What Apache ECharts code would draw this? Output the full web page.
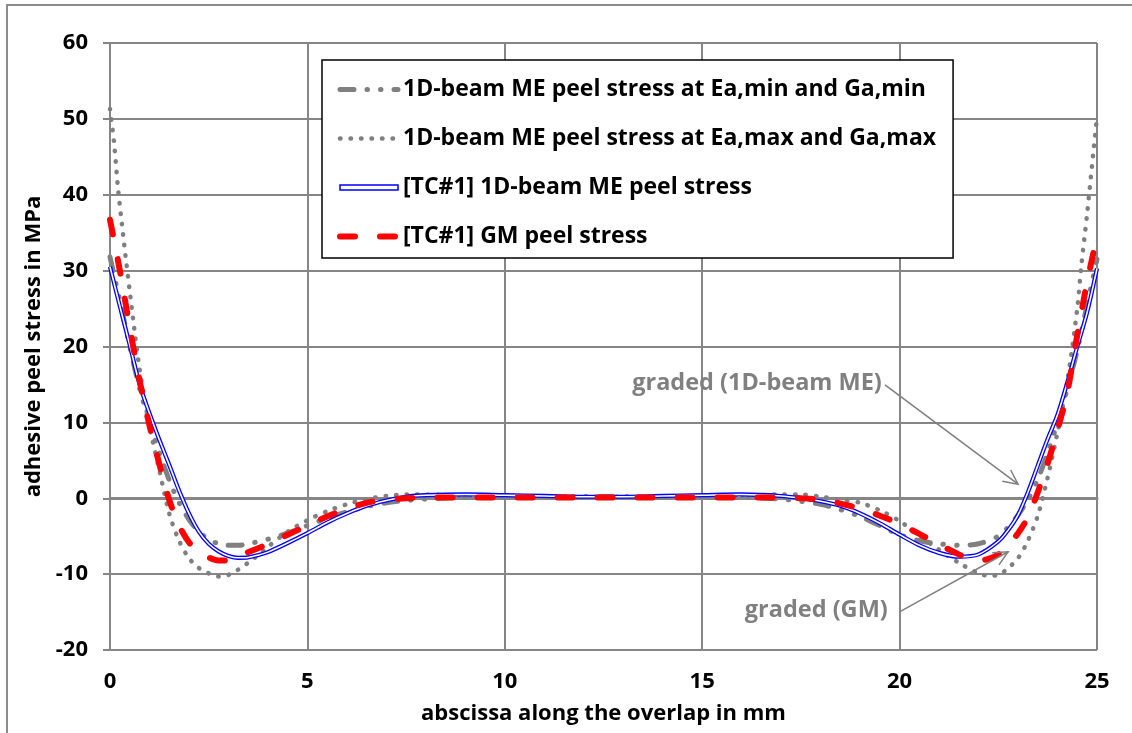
<!DOCTYPE html>
<html>
<head>
<meta charset="utf-8">
<script src="https://cdn.jsdelivr.net/npm/echarts@6/dist/echarts.min.js"></script>
<style>
html,body{margin:0;padding:0;background:#fff;}
#chart{width:1132px;height:733px;}
</style>
</head>
<body>
<div id="chart"></div>
<script>
// ---- Data ----
var xTicks = [0, 5, 10, 15, 20, 25];
var yTicks = [-20, -10, 0, 10, 20, 30, 40, 50, 60];

var nameMin = '1D-beam ME peel stress at Ea,min and Ga,min';
var nameMax = '1D-beam ME peel stress at Ea,max and Ga,max';
var nameME  = '[TC#1] 1D-beam ME peel stress';
var nameGM  = '[TC#1] GM peel stress';

var xMin = [0,0.25,0.5,0.75,1,1.25,1.5,1.75,2,2.25,2.5,2.75,3,3.25,3.5,4,4.5,5,5.5,6,6.5,7,7.5,8,9,10,11,12,13,14,15,16,17,17.5,18,18.5,19,19.5,20,20.5,21,21.5,22,22.5,22.75,23,23.25,23.5,23.75,24,24.25,24.5,24.75,25];
var yMin = [31.8,26,20,14.5,10,6,2.4,-0.6,-2.8,-4.4,-5.4,-6,-6.2,-6.2,-6,-5.4,-4.6,-3.6,-2.6,-1.8,-1.1,-0.6,-0.3,-0.1,0.1,0.1,0.2,0.2,0.2,0.1,0.1,0.1,-0.1,-0.4,-0.8,-1.5,-2.4,-3.6,-4.8,-5.6,-6,-6.2,-6,-5,-3.8,-2.2,-0.2,2.5,6,10,14.5,19.5,25.5,31.5];

var xMax = [0,0.1,0.2,0.3,0.4,0.5,0.6,0.75,1,1.25,1.5,1.75,2,2.25,2.5,2.75,3,3.25,3.5,3.75,4,4.5,5,5.5,6,6.5,7,7.5,8,9,10,11,12,13,14,15,16,17,17.5,18,18.5,19,19.5,20,20.5,21,21.5,22,22.25,22.5,22.75,23,23.25,23.5,23.75,24,24.25,24.5,24.6,24.75,24.9,25];
var yMax = [51.3,47,41,36.2,31.6,27.3,23,17,9.5,3.7,-2,-5.6,-7.9,-9.2,-9.9,-10.3,-10.1,-9.4,-8.5,-7.5,-6.4,-4.4,-2.9,-1.7,-0.8,-0.1,0.3,0.5,0.5,0.3,0.2,0.2,0.2,0.2,0.2,0.2,0.3,0.5,0.5,0.2,-0.2,-0.6,-1.6,-3,-4.9,-6.8,-8.5,-9.9,-10.2,-10.1,-9.2,-7.9,-5.6,-2.3,2.7,8.7,15.5,25,30.5,37.5,45.2,50.2];

var xME = [0,0.25,0.5,0.75,1,1.25,1.5,1.75,2,2.25,2.5,2.75,3,3.25,3.5,3.75,4,4.5,5,5.5,6,6.5,7,7.5,8,9,10,11,12,13,14,15,16,17,17.5,18,18.5,19,19.5,20,20.5,21,21.5,22,22.5,22.75,23,23.25,23.5,23.75,24,24.25,24.5,24.75,25];
var yME = [30.5,25.3,20.2,15,11.2,7.7,4.4,1,-2,-4.4,-6,-7,-7.6,-7.85,-7.8,-7.5,-7.1,-5.9,-4.6,-3.2,-2,-1,-0.3,0.2,0.4,0.5,0.4,0.3,0.2,0.2,0.3,0.4,0.5,0.3,0,-0.4,-1,-2,-3.3,-4.8,-6.2,-7.2,-7.7,-7.4,-5.7,-4.2,-2.2,0.8,4.3,7.8,11,15.3,20,24.5,30.3];

var xGM = [0,0.25,0.5,0.75,1,1.25,1.5,1.75,2,2.25,2.5,2.75,3,3.25,3.5,3.75,4,4.5,5,5.5,6,6.5,7,7.5,8,9,10,11,12,13,14,15,16,17,17.5,18,18.5,19,19.5,20,20.5,21,21.5,21.75,22,22.25,22.5,22.75,23,23.25,23.5,23.75,24,24.25,24.5,24.75,25];
var yGM = [36.7,30,22.5,15.5,9.6,4.5,-0.2,-3.6,-5.8,-7,-7.8,-8.2,-8.2,-7.8,-7.1,-6.6,-6,-4.8,-3.6,-2.4,-1.4,-0.6,-0.2,0,0.1,0.1,0.1,0.1,0.1,0.1,0.1,0.1,0.1,0.1,0,-0.2,-0.7,-1.4,-2.3,-3.4,-4.7,-6.1,-7.4,-8,-8.2,-8,-7.4,-6.2,-4.6,-2.5,0.8,4.6,9,14,21.5,28.5,34.5];

// annotations (data coordinates)
var annoME = {text: 'graded (1D-beam ME)', textAt: [19.55, 15.1], from: [19.63, 14.95], to: [23.0, 1.85]};
var annoGM = {text: 'graded (GM)', textAt: [19.7, -14.8], from: [20.01, -14.95], to: [22.75, -7.05]};

function zip(xs, ys) { return xs.map(function (x, i) { return [x, ys[i]]; }); }

var FONT = '"Open Sans"';
var GRID = '#868686';
var GREY = '#808080';
var noSym = {color: 'rgba(0,0,0,0)', borderWidth: 0, opacity: 0};

var chart = echarts.init(document.getElementById('chart'), null, {renderer: 'canvas'});

var option = {
  backgroundColor: '#fff',
  animation: false,
  grid: {left: 110, right: 35, top: 43, bottom: 83, containLabel: false},
  legend: {
    orient: 'vertical',
    left: 322, top: 60,
    padding: [18, 17, 10, 15],
    itemWidth: 58, itemHeight: 20, itemGap: 26,
    borderColor: '#000', borderWidth: 1.5, backgroundColor: '#fff',
    textStyle: {fontFamily: FONT, fontWeight: 'bold', fontSize: 23, color: '#000'},
    lineStyle: {width: 'inherit'},
    selectedMode: false,
    data: [
      {name: nameMin, itemStyle: noSym},
      {name: nameMax, itemStyle: noSym},
      {name: nameME, icon: 'path://M0,0H60V5H0Z', itemStyle: {color: '#fff', borderColor: '#0000ff', borderWidth: 1.5}},
      {name: nameGM, itemStyle: noSym}
    ]
  },
  xAxis: [{
    type: 'value', min: 0, max: 25, interval: 5, position: 'bottom',
    axisLine: {show: true, onZero: true, lineStyle: {color: GRID, width: 3}},
    axisTick: {show: true, length: 5, lineStyle: {color: GRID, width: 2}},
    axisLabel: {show: false},
    splitLine: {show: true, lineStyle: {color: GRID, width: 2}}
  }, {
    type: 'value', min: 0, max: 25, interval: 5, position: 'bottom',
    axisLine: {show: false, onZero: false},
    axisTick: {show: false},
    splitLine: {show: false},
    axisLabel: {show: true, margin: 21, fontFamily: FONT, fontWeight: 'bold', fontSize: 22, color: '#000',
      formatter: function (v) { return xTicks.indexOf(v) >= 0 ? String(v) : ''; }},
    name: 'abscissa along the overlap in mm', nameLocation: 'middle', nameGap: 53,
    nameTextStyle: {fontFamily: FONT, fontWeight: 'bold', fontSize: 22, color: '#000'}
  }],
  yAxis: {
    type: 'value', min: -20, max: 60, interval: 10,
    axisLine: {show: true, onZero: false, lineStyle: {color: GRID, width: 2}},
    axisTick: {show: true, inside: false, length: 7, lineStyle: {color: GRID, width: 2}},
    axisLabel: {margin: 22, fontFamily: FONT, fontWeight: 'bold', fontSize: 22, color: '#000',
      formatter: function (v) { return yTicks.indexOf(v) >= 0 ? String(v) : ''; }},
    splitLine: {show: true, lineStyle: {color: GRID, width: 2}},
    name: 'adhesive peel stress in MPa', nameLocation: 'middle', nameGap: 65, nameRotate: 90,
    nameTextStyle: {fontFamily: FONT, fontWeight: 'bold', fontSize: 22, color: '#000'}
  },
  series: [
    {name: nameMax, type: 'line', xAxisIndex: 0, data: zip(xMax, yMax), smooth: 0.3, showSymbol: false, symbol: 'none',
      color: GREY, lineStyle: {color: GREY, width: 4.5, type: [0.5, 10], cap: 'round'}, z: 2},
    {name: nameMin, type: 'line', xAxisIndex: 0, data: zip(xMin, yMin), smooth: 0.3, showSymbol: false, symbol: 'none',
      color: GREY, lineStyle: {color: GREY, width: 5, type: [14, 13, 0.5, 13, 0.5, 13], cap: 'round'}, z: 3},
    {name: nameME, type: 'line', xAxisIndex: 0, data: zip(xME, yME), smooth: 0.3, showSymbol: false, symbol: 'none',
      color: '#0000ff', lineStyle: {color: '#0000ff', width: 4.2}, z: 4},
    {name: nameME + ' (inner)', type: 'line', xAxisIndex: 0, data: zip(xME, yME), smooth: 0.3, showSymbol: false, symbol: 'none',
      color: '#fff', lineStyle: {color: '#fff', width: 1.6}, z: 5},
    {name: nameGM, type: 'line', xAxisIndex: 0, data: zip(xGM, yGM), smooth: 0.3, showSymbol: false, symbol: 'none',
      color: '#ff0000', lineStyle: {color: '#ff0000', width: 6, type: [15, 25], cap: 'round'}, z: 6}
  ]
};
chart.setOption(option);

// outer frame + annotations with arrows (positions converted through the axes)
function px(p) { return chart.convertToPixel({xAxisIndex: 0, yAxisIndex: 0}, p); }
function arrowGraphic(a) {
  var s = px(a.from), e = px(a.to);
  var ang = Math.atan2(e[1] - s[1], e[0] - s[0]);
  var L = 16, spread = 0.45;
  var h1 = [e[0] - L * Math.cos(ang - spread), e[1] - L * Math.sin(ang - spread)];
  var h2 = [e[0] - L * Math.cos(ang + spread), e[1] - L * Math.sin(ang + spread)];
  var t = px(a.textAt);
  return [
    {type: 'line', shape: {x1: s[0], y1: s[1], x2: e[0], y2: e[1]}, style: {stroke: GREY, lineWidth: 1.5}, z: 100},
    {type: 'polyline', shape: {points: [h1, e, h2]}, style: {stroke: GREY, lineWidth: 1.5, fill: null}, z: 100},
    {type: 'text', x: t[0], y: t[1], style: {text: a.text, fill: GREY, font: 'bold 23.5px ' + FONT, align: 'right', verticalAlign: 'middle'}, z: 100}
  ];
}
var g = [{type: 'rect', shape: {x: 7, y: 5, width: 1300, height: 900}, style: {stroke: '#8c8c8c', lineWidth: 2, fill: null}, z: 0, silent: true}];
g = g.concat(arrowGraphic(annoME), arrowGraphic(annoGM));
chart.setOption({graphic: g});
</script>
</body>
</html>
